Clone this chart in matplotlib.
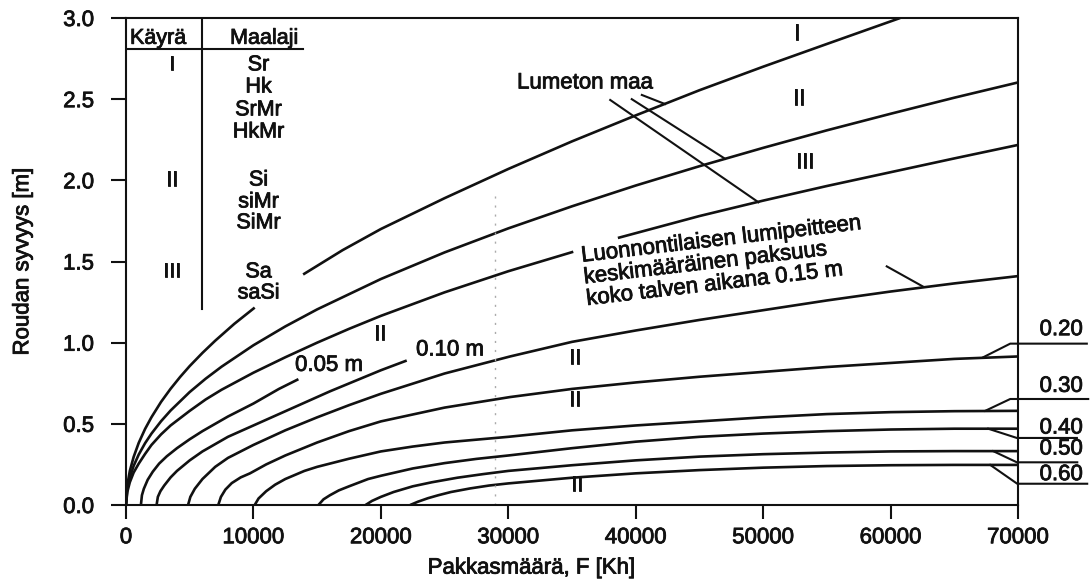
import matplotlib
matplotlib.use("Agg")
import matplotlib.pyplot as plt
import matplotlib.patheffects as pe
from matplotlib.ticker import FixedLocator, FixedFormatter

plt.rcParams['font.family'] = ['Liberation Sans', 'DejaVu Sans']

# ---------------- data ----------------
# Bare ground ("Lumeton maa") curves I, II, III
F_I_low = [0, 100, 300, 600, 1000, 1500, 2000, 2750, 3500, 4250, 5000, 6000, 7000, 8500, 10100]
D_I_low = [0, 0.121, 0.21, 0.296, 0.383, 0.469, 0.541, 0.635, 0.716, 0.789, 0.856, 0.937, 1.012, 1.116, 1.216]
F_I_up = [13900, 17000, 20000, 25000, 30000, 35000, 40000, 45000, 50000, 55000, 60750]
D_I_up = [1.42, 1.57, 1.70, 1.89, 2.07, 2.24, 2.40, 2.555, 2.70, 2.84, 3.00]

F_II = [0, 100, 300, 600, 1000, 1500, 2000, 2750, 3500, 5000, 6250, 7500, 10000, 12500, 15000,
        20000, 25000, 30000, 35000, 40000, 45000, 50000, 55000, 60000, 65000, 70000]
D_II = [0, 0.098, 0.17, 0.241, 0.311, 0.381, 0.44, 0.516, 0.582, 0.696, 0.778, 0.852, 0.984, 1.10, 1.205,
        1.392, 1.556, 1.704, 1.84, 1.968, 2.087, 2.20, 2.308, 2.41, 2.509, 2.603]

F_III_a = [0, 100, 300, 600, 1000, 1500, 2000, 2750, 3500, 5000, 6250, 7500, 10000, 12500, 15000,
           17500, 20000, 25000, 30000, 35100]
D_III_a = [0, 0.08, 0.14, 0.20, 0.255, 0.315, 0.37, 0.435, 0.49, 0.58, 0.65, 0.71, 0.815, 0.91, 1.00,
           1.085, 1.165, 1.31, 1.44, 1.56]
F_III_b = [38600, 45000, 50000, 55000, 60000, 65000, 70000]
D_III_b = [1.645, 1.78, 1.875, 1.965, 2.05, 2.135, 2.218]

# Snow-cover curves (average snow depth, m)
F_005 = [1170, 1250, 1400, 1700, 2100, 2600, 3200, 4000, 5000, 6000, 7000, 8000, 9000, 10000, 11000, 12000, 13530]
D_005 = [0, 0.06, 0.10, 0.155, 0.205, 0.255, 0.30, 0.35, 0.405, 0.455, 0.50, 0.545, 0.585, 0.625, 0.67, 0.715, 0.775]

F_010 = [2400, 2500, 2700, 3000, 3500, 4000, 5000, 6000, 7000, 8000, 10000, 12000, 14000, 16000, 18000, 20000, 22030]
D_010 = [0, 0.05, 0.085, 0.12, 0.17, 0.21, 0.275, 0.33, 0.375, 0.42, 0.49, 0.56, 0.63, 0.70, 0.765, 0.83, 0.89]

F_015 = [4870, 5050, 5400, 6000, 7000, 8000, 10000, 12500, 15000, 17500, 20000, 25000, 30140,
         35000, 40000, 45000, 50000, 55000, 60000, 65000, 70000]
D_015 = [0, 0.05, 0.10, 0.16, 0.235, 0.29, 0.37, 0.46, 0.54, 0.615, 0.685, 0.81, 0.915,
         1.005, 1.075, 1.14, 1.20, 1.26, 1.315, 1.365, 1.41]

F_020 = [7240, 7450, 7800, 8300, 9000, 9730, 11000, 12500, 15000, 17500, 20000, 25000, 30140, 35000,
         40000, 45000, 50000, 55000, 60000, 65000, 70000]
D_020 = [0, 0.05, 0.095, 0.135, 0.17, 0.195, 0.25, 0.305, 0.385, 0.455, 0.515, 0.60, 0.665, 0.715,
         0.755, 0.79, 0.82, 0.85, 0.875, 0.90, 0.915]

F_030 = [10100, 10400, 11000, 11700, 12500, 14000, 15000, 17500, 20000, 22500, 25000, 30000,
         35000, 40000, 45000, 50000, 55000, 60000, 65000, 70000]
D_030 = [0, 0.04, 0.085, 0.125, 0.16, 0.21, 0.235, 0.285, 0.33, 0.36, 0.385, 0.42,
         0.46, 0.49, 0.515, 0.54, 0.56, 0.572, 0.578, 0.58]

F_040 = [15100, 15500, 16000, 16700, 17500, 19000, 20000, 22500, 25000, 27500, 30000, 35000,
         40000, 45000, 50000, 55000, 60000, 65000, 70000]
D_040 = [0, 0.035, 0.06, 0.09, 0.115, 0.16, 0.18, 0.225, 0.258, 0.284, 0.305, 0.35,
         0.39, 0.42, 0.44, 0.455, 0.465, 0.47, 0.47]

F_050 = [18800, 19300, 20000, 21000, 22500, 24000, 26000, 28000, 30000, 35000, 40000, 45000,
         50000, 55000, 60000, 65000, 70000]
D_050 = [0, 0.025, 0.05, 0.08, 0.115, 0.14, 0.168, 0.19, 0.21, 0.245, 0.275, 0.298,
         0.313, 0.323, 0.33, 0.332, 0.332]

F_060 = [22300, 22900, 23700, 24500, 25500, 27000, 28500, 30000, 35000, 40000, 45000, 50000,
         55000, 60000, 65000, 70000]
D_060 = [0, 0.02, 0.042, 0.06, 0.08, 0.102, 0.12, 0.133, 0.168, 0.195, 0.215, 0.23,
         0.24, 0.245, 0.247, 0.247]

# Axis ticks
x_ticks = [0, 10000, 20000, 30000, 40000, 50000, 60000, 70000]
x_tick_labels = ["0", "10000", "20000", "30000", "40000", "50000", "60000", "70000"]
y_ticks = [0.0, 0.5, 1.0, 1.5, 2.0, 2.5, 3.0]
y_tick_labels = ["0.0", "0.5", "1.0", "1.5", "2.0", "2.5", "3.0"]

# Table (Käyrä / Maalaji)
table_curve = ["I", "II", "III"]
table_curve_y = [2.711, 2.002, 1.436]
table_soils = ["Sr", "Hk", "SrMr", "HkMr", "Si", "siMr", "SiMr", "Sa", "saSi"]
table_soils_y = [2.711, 2.575, 2.434, 2.298, 2.002, 1.867, 1.738, 1.436, 1.306]

# Right-hand snow depth labels: text, leader polyline (F, depth), label position
right_labels = ["0.20", "0.30", "0.40", "0.50", "0.60"]
right_label_y = [1.080, 0.731, 0.474, 0.345, 0.187]
right_leader_F = [[67270, 69390, 75400], [67425, 69390, 75510], [67660, 69910, 74620],
                  [68050, 69910, 74650], [67820, 69940, 75430]]
right_leader_D = [[0.91, 0.994, 0.994], [0.58, 0.653, 0.653], [0.47, 0.413, 0.413],
                  [0.332, 0.263, 0.263], [0.247, 0.131, 0.131]]

# "Lumeton maa" leaders
lumeton_F = [[38000, 49630], [39690, 47010], [40480, 42300]]
lumeton_D = [[2.495, 1.865], [2.50, 2.133], [2.526, 2.47]]

# ---------------- figure ----------------
W, H = 1092, 581
fig = plt.figure(figsize=(W / 100, H / 100), dpi=100)
ax = fig.add_axes([126 / W, 1 - 505 / H, (1018 - 126) / W, (505 - 18) / H])

ink = '#111111'
lw = 1.9
fs = 16
thick = [pe.withStroke(linewidth=0.6, foreground=ink)]

def curve(F, D, **kw):
    ax.plot(F, D, color=ink, lw=lw, solid_capstyle='butt', solid_joinstyle='round', **kw)

for F, D in [(F_I_low, D_I_low), (F_I_up, D_I_up), (F_II, D_II),
             (F_III_a, D_III_a), (F_III_b, D_III_b),
             (F_005, D_005), (F_010, D_010), (F_015, D_015), (F_020, D_020),
             (F_030, D_030), (F_040, D_040), (F_050, D_050), (F_060, D_060)]:
    curve(F, D)

# faint vertical dotted line (scan fold)
ax.plot([28960, 28960], [0, 1.94], color='#aaaaaa', lw=1.0, ls=(0, (1.5, 5)))

ax.set_xlim(0, 70000)
ax.set_ylim(0, 3.0)

for s in ax.spines.values():
    s.set_linewidth(1.5)
    s.set_color(ink)

ax.xaxis.set_major_locator(FixedLocator(x_ticks))
ax.xaxis.set_major_formatter(FixedFormatter(x_tick_labels))
ax.yaxis.set_major_locator(FixedLocator(y_ticks))
ax.yaxis.set_major_formatter(FixedFormatter(y_tick_labels))
ax.tick_params(axis='x', direction='out', length=10, width=1.5, pad=6,
               labelsize=fs, colors=ink)
ax.tick_params(axis='y', direction='out', length=11, width=1.5, pad=12,
               labelsize=fs, colors=ink)
for lab in ax.get_xticklabels() + ax.get_yticklabels():
    lab.set_path_effects(thick)

ax.set_xlabel("Pakkasmäärä, F [Kh]", fontsize=fs, color=ink, path_effects=thick)
ax.xaxis.set_label_coords(0.455, -0.108)
ax.set_ylabel("Roudan syvyys [m]", fontsize=fs, color=ink, path_effects=thick)
ax.yaxis.set_label_coords(-0.104, 0.5)

def txt(x, y, s, **kw):
    params = dict(fontsize=fs, ha='center', va='center', color=ink, path_effects=thick)
    params.update(kw)
    ax.text(x, y, s, **params)

# ---- table in upper left ----
ax.plot([0, 13890], [2.81, 2.81], color=ink, lw=1.5)
ax.plot([5970, 5970], [3.0, 1.21], color=ink, lw=1.5)
txt(2510, 2.875, "Käyrä", fontsize=fs - 0.5)
txt(10830, 2.875, "Maalaji", fontsize=fs - 0.5)
for t, y in zip(table_curve, table_curve_y):
    txt(3590, y, t, fontsize=fs - 0.5)
for t, y in zip(table_soils, table_soils_y):
    txt(10400, y, t, fontsize=fs - 0.5)

# ---- region labels ----
txt(52670, 2.90, "I")
txt(52830, 2.50, "II")
txt(53300, 2.11, "III")
txt(19940, 1.05, "II")
txt(35240, 0.90, "II")
txt(35240, 0.645, "II")
txt(35380, 0.12, "II")

# ---- Lumeton maa ----
txt(36030, 2.60, "Lumeton maa")
for F, D in zip(lumeton_F, lumeton_D):
    ax.plot(F, D, color=ink, lw=1.5)

# ---- snow labels ----
txt(15930, 0.86, "0.05 m")
txt(25430, 0.955, "0.10 m")
txt(35640, 1.596,
    "Luonnontilaisen lumipeitteen\nkeskimääräinen paksuus\nkoko talven aikana 0.15 m",
    ha='left', va='top', rotation=6.7, rotation_mode='anchor', linespacing=1.05)
ax.plot([59700, 62560], [1.47, 1.345], color=ink, lw=1.5)

for t, y, F, D in zip(right_labels, right_label_y, right_leader_F, right_leader_D):
    ax.plot(F, D, color=ink, lw=1.5, clip_on=False)
    txt(73390, y, t, clip_on=False)

fig.savefig("out.png", dpi=100, facecolor='white')
